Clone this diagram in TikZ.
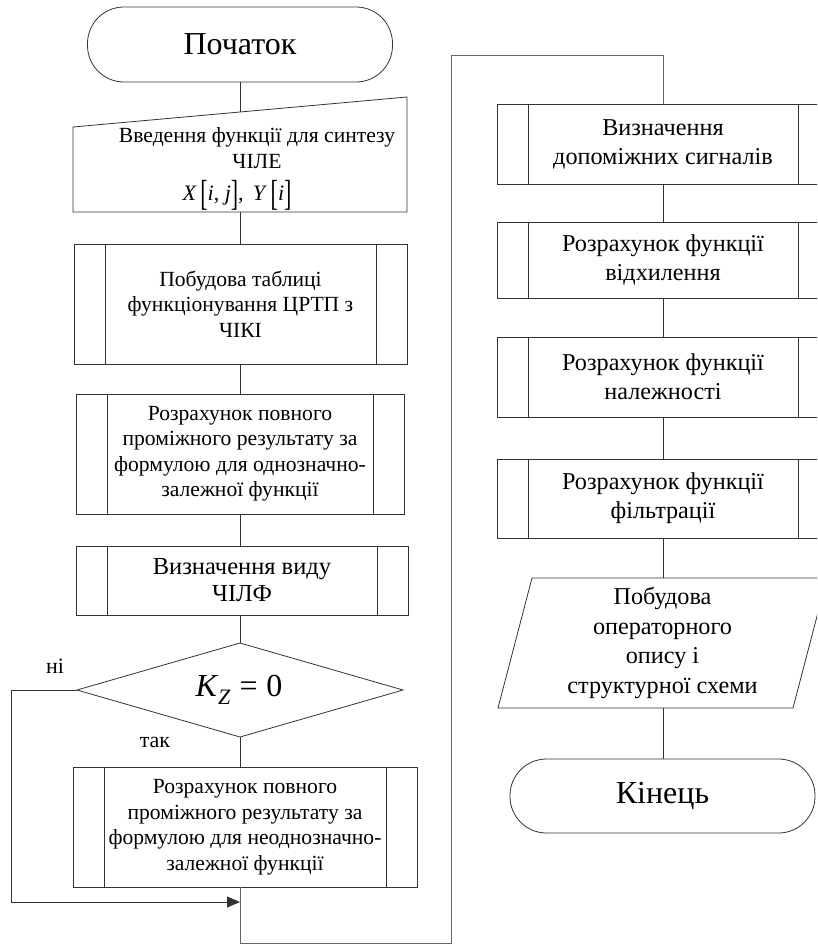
\documentclass[tikz,border=0pt]{standalone}
\usepackage{fontspec}
\setmainfont{Liberation Serif}[Ligatures=TeX]
\usetikzlibrary{arrows.meta,calc}

% square brackets stretched to a taller height for the input data line
\newcommand{\tallL}{\raisebox{-4.5pt}{\scalebox{1}[1.65]{[}}}
\newcommand{\tallR}{\raisebox{-4.5pt}{\scalebox{1}[1.65]{]}}}

\begin{document}
\begin{tikzpicture}[x=1pt,y=-1pt,line width=0.8pt,
  every node/.style={inner sep=0pt,outer sep=0pt},
  lines/.style={draw=black!80},
  loopline/.style={draw=black!60},
  term/.style={lines,rectangle,rounded corners=36.5pt,align=center,
    font=\rmfamily\fontsize{32}{36}\selectfont},
  procL/.style={lines,rectangle,align=center,font=\rmfamily\fontsize{21.6}{25.5}\selectfont,
    path picture={\draw[black!80]
      ([xshift=31pt]path picture bounding box.north west) --
      ([xshift=31pt]path picture bounding box.south west)
      ([xshift=-31pt]path picture bounding box.north east) --
      ([xshift=-31pt]path picture bounding box.south east);}},
  procR/.style={procL,font=\rmfamily\fontsize{24.2}{29}\selectfont},
  lbl/.style={font=\rmfamily\fontsize{22}{24}\selectfont}
]
\useasboundingbox (0,0) rectangle (817,945);
\clip (0,0) rectangle (817,945);

% ---------- left column ----------
\node[term,minimum width=305pt,minimum height=75pt] (start) at (240,44.5) {Початок};

% manual input block
\node[minimum width=334pt,minimum height=115pt] (inp) at (240,154.5) {};
\draw[lines] (inp.south west) -- (inp.south east) -- (inp.north east)
  -- ([yshift=-30pt]inp.north west) -- cycle;
\node[align=center,font=\rmfamily\fontsize{21.6}{26}\selectfont] (inptxt) at (257,148)
  {Введення функції для синтезу\\ЧІЛЕ};
\node[font=\rmfamily\fontsize{22}{26}\selectfont] (inpmath) at (237,195)
  {\textit{X}\,\tallL\textit{i}, \textit{j}\tallR, \,\textit{Y}\,\tallL\textit{i}\tallR};
\coordinate (inpin) at (240,112);

\node[procL,minimum width=333pt,minimum height=120pt] (b1) at (240.5,304)
  {Побудова таблиці\\функціонування ЦРТП з\\ЧІКІ};
\node[procL,minimum width=328pt,minimum height=120pt] (b2) at (240,454)
  {Розрахунок повного\\проміжного результату за\\формулою для однозначно-\\залежної функції};
\node[procL,minimum width=332pt,minimum height=69pt,
  font=\rmfamily\fontsize{24.5}{27}\selectfont] (b3) at (242,580.5)
  {Визначення виду\\ЧІЛФ};

% decision
\node[minimum width=326pt,minimum height=94pt] (dec) at (240,690) {};
\draw[lines] (dec.north) -- (dec.east) -- (dec.south) -- (dec.west) -- cycle;
\node[font=\rmfamily\fontsize{32}{34}\selectfont] (dectxt) at (239,690)
  {\textit{K}\raisebox{-0.25em}{\fontsize{22}{22}\selectfont\textit{Z}}\;=\;0};
\node[lbl] (no) at (55,666) {ні};
\node[lbl] (yes) at (155,742) {так};

\node[procL,minimum width=344pt,minimum height=120pt] (b4) at (245,827)
  {Розрахунок повного\\проміжного результату за\\формулою для неоднозначно-\\залежної функції};

% ---------- right column ----------
\node[procR,minimum width=332pt,minimum height=80pt] (b5) at (663,144)
  {Визначення\\допоміжних сигналів};
\node[procR,minimum width=332pt,minimum height=76pt] (b6) at (663,260)
  {Розрахунок функції\\відхилення};
\node[procR,minimum width=332pt,minimum height=80pt] (b7) at (663,377)
  {Розрахунок функції\\належності};
\node[procR,minimum width=332pt,minimum height=79pt] (b8) at (663,498.5)
  {Розрахунок функції\\фільтрації};

% output parallelogram
\node[minimum width=295pt,minimum height=130pt,align=center,
  font=\rmfamily\fontsize{24.2}{29.5}\selectfont] (par) at (662.5,643)
  {Побудова\\операторного\\опису і\\структурної схеми};
\draw[lines] ([xshift=17pt]par.north west) -- ([xshift=17pt]par.north east)
  -- ([xshift=-17pt]par.south east) -- ([xshift=-17pt]par.south west) -- cycle;

\node[term,minimum width=305pt,minimum height=74pt] (end) at (662.5,796) {Кінець};

% ---------- connectors ----------
\draw[lines] (start.south) -- (inpin);
\draw[lines] (inp.south) -- (inp.south |- b1.north);
\draw[lines] (b1.south) -- (b1.south |- b2.north);
\draw[lines] (b2.south) -- (b2.south |- b3.north);
\draw[lines] (dec.north |- b3.south) -- (dec.north);
\draw[lines] (dec.south) -- (dec.south |- b4.north);

\coordinate (join) at (240,902);
\coordinate (lx) at (11,902);
\draw[lines] (dec.west) -| (lx);
\draw[lines,-{Triangle[length=13pt,width=11pt]}] (lx) -- (join);

\coordinate (lb) at (451,943);
\coordinate (lt) at (451,55);
\draw[loopline] (dec.south |- b4.south) |- (lb) -- (lt) -| (b5.north);

\draw[lines] (b5.south) -- (b6.north);
\draw[lines] (b6.south) -- (b7.north);
\draw[lines] (b7.south) -- (b8.north);
\draw[lines] (b8.south) -- (b8.south |- par.north);
\draw[lines] (par.south -| b8.south) -- (b8.south |- end.north);
\end{tikzpicture}
\end{document}
